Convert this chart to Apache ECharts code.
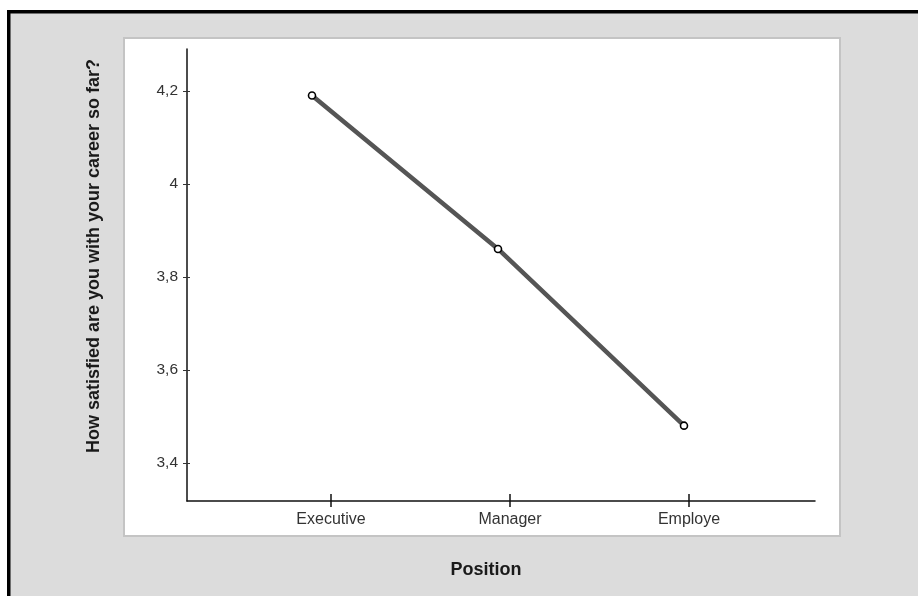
<!DOCTYPE html>
<html><head><meta charset="utf-8">
<script src="https://cdn.jsdelivr.net/npm/echarts@6/dist/echarts.min.js"></script>
<style>html,body{margin:0;padding:0;background:#fff}#c{width:918px;height:596px}</style>
</head><body><div id="c"></div>
<script>
const categories = ['Executive', 'Manager', 'Employe'];
const satisfaction = [4.19, 3.86, 3.48];
const yTicks = [3.4, 3.6, 3.8, 4.0, 4.2];
const yTitle = 'How satisfied are you with your career so far?';
const xTitle = 'Position';

const yMin = 3.318, yMax = 4.29;
const FONT = '"Liberation Sans", Arial, Helvetica, sans-serif';
const fmt = v => String(Math.round(v * 10) / 10).replace('.', ',');

const chart = echarts.init(document.getElementById('c'), null, { renderer: 'canvas' });

const option = {
  animation: false,
  backgroundColor: '#ffffff',
  textStyle: { fontFamily: FONT },
  graphic: [
    { type: 'rect', z: -10, silent: true, shape: { x: 8, y: 12, width: 910, height: 584 }, style: { fill: '#dcdcdc' } },
    { type: 'rect', z: -9, silent: true, shape: { x: 7, y: 10, width: 911, height: 3.5 }, style: { fill: '#000' } },
    { type: 'rect', z: -9, silent: true, shape: { x: 7, y: 10, width: 3.5, height: 586 }, style: { fill: '#000' } },
    { type: 'rect', z: -8, silent: true, shape: { x: 124, y: 38, width: 716, height: 498 }, style: { fill: '#fff', stroke: '#c4c4c4', lineWidth: 2 } },
    { type: 'text', z: 10, x: 94, y: 256, rotation: Math.PI / 2,
      style: { text: yTitle, font: 'bold 18px ' + FONT, fill: '#1a1a1a', align: 'center', verticalAlign: 'middle' } },
    { type: 'text', z: 10, x: 486, y: 570,
      style: { text: xTitle, font: 'bold 18px ' + FONT, fill: '#1a1a1a', align: 'center', verticalAlign: 'middle' } }
  ],
  grid: [
    { left: 187, top: 49, width: 628, height: 452, containLabel: false },
    { left: 312, top: 49, width: 372, height: 452, containLabel: false },
    { left: 331, top: 49, width: 358, height: 452, containLabel: false }
  ],
  xAxis: [
    { gridIndex: 0, type: 'value', min: 0, max: 1, position: 'bottom',
      axisLine: { show: true, lineStyle: { color: '#111', width: 1.5 } },
      axisTick: { show: false }, axisLabel: { show: false }, splitLine: { show: false } },
    { gridIndex: 1, type: 'category', data: categories, boundaryGap: false, show: false },
    { gridIndex: 2, type: 'category', data: categories, boundaryGap: false, position: 'bottom',
      axisLine: { show: false },
      axisTick: { show: true, alignWithLabel: true, length: 6, lineStyle: { color: '#111', width: 1.5 } },
      axisLabel: { show: true, color: '#333', fontSize: 16, margin: 11, fontFamily: FONT },
      splitLine: { show: false } },
    { gridIndex: 2, type: 'category', data: categories, boundaryGap: false, position: 'bottom',
      axisLine: { show: false },
      axisTick: { show: true, inside: true, length: 7, lineStyle: { color: '#111', width: 1.5 } },
      axisLabel: { show: false }, splitLine: { show: false } }
  ],
  yAxis: [
    { gridIndex: 0, type: 'value', min: yMin, max: yMax, position: 'left',
      axisLine: { show: true, lineStyle: { color: '#111', width: 1.5 } },
      axisTick: { show: true, length: 4, customValues: yTicks, lineStyle: { color: '#333', width: 1 } },
      axisLabel: { show: true, customValues: yTicks, formatter: fmt, color: '#333', fontSize: 15.5, margin: 9, fontFamily: FONT },
      splitLine: { show: false } },
    { gridIndex: 0, type: 'value', min: yMin, max: yMax, position: 'left',
      axisLine: { show: false },
      axisTick: { show: true, inside: true, length: 3, customValues: yTicks, lineStyle: { color: '#333', width: 1 } },
      axisLabel: { show: false }, splitLine: { show: false } },
    { gridIndex: 1, type: 'value', min: yMin, max: yMax, show: false, splitLine: { show: false } },
    { gridIndex: 2, type: 'value', min: yMin, max: yMax, show: false, splitLine: { show: false } }
  ],
  series: [
    { type: 'line', xAxisIndex: 1, yAxisIndex: 2, data: satisfaction,
      lineStyle: { color: '#555555', width: 4.5 },
      symbol: 'circle', symbolSize: 7, showAllSymbol: true,
      itemStyle: { color: '#ffffff', borderColor: '#000000', borderWidth: 1.6 },
      z: 5 }
  ]
};
chart.setOption(option);
</script>
</body></html>
